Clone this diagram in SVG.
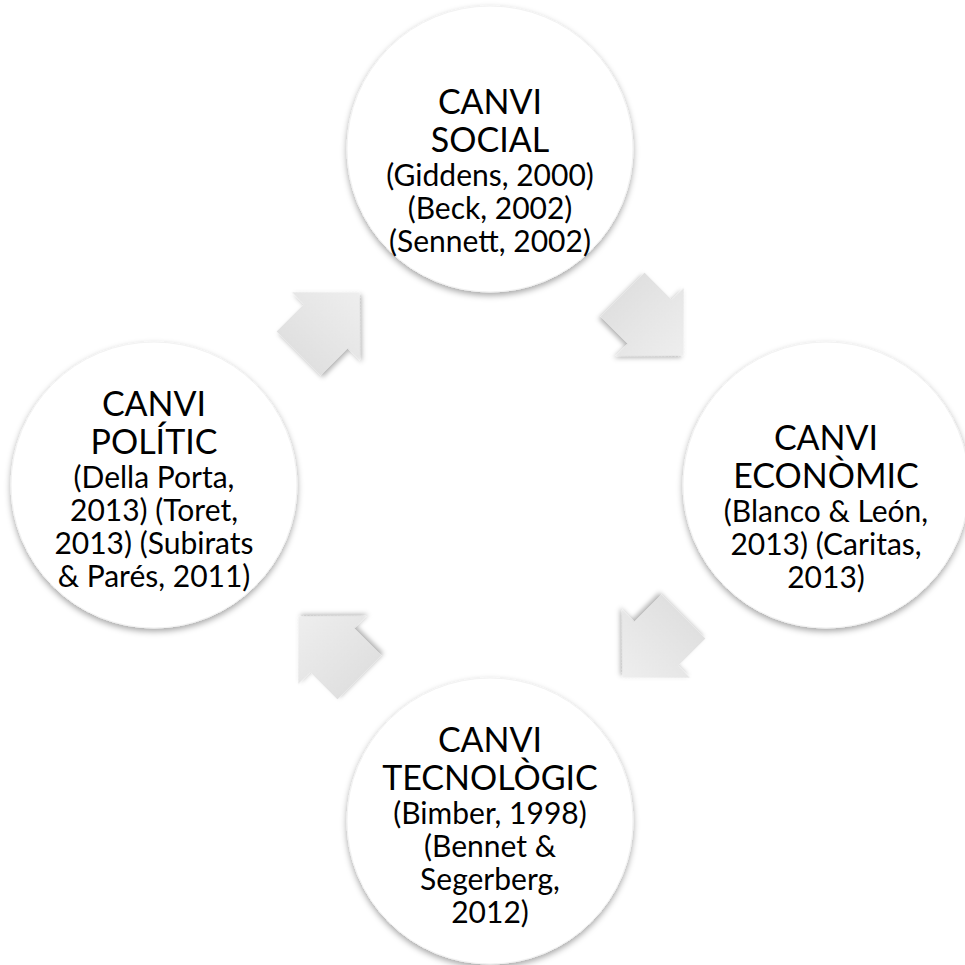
<svg xmlns="http://www.w3.org/2000/svg" width="965" height="965" viewBox="0 0 965 965">
<defs>
  <filter id="sh" x="-20%" y="-20%" width="140%" height="140%">
    <feDropShadow dx="0" dy="3" stdDeviation="3" flood-color="#000" flood-opacity="0.35"/>
  </filter>
  <filter id="ash" x="-30%" y="-30%" width="160%" height="160%">
    <feDropShadow dx="0" dy="3" stdDeviation="2.5" flood-color="#000" flood-opacity="0.3"/>
  </filter>
  <linearGradient id="ag" x1="0" y1="0" x2="1" y2="0">
    <stop offset="0" stop-color="#e0e0e0"/>
    <stop offset="1" stop-color="#eeeeee"/>
  </linearGradient>
  <polygon id="arrow" points="-43,-31 -4.5,-31 -4.5,-48 43,0 -4.5,48 -4.5,31 -43,31"/>
</defs>
<style>
  .node circle { fill: #ffffff; stroke: #f2f2f2; stroke-width: 1; filter: url(#sh); }
  .t { font-family: Lato, "Open Sans", sans-serif; font-size: 34px; fill: #000; text-anchor: middle; }
  .r { font-family: Lato, "Open Sans", sans-serif; font-size: 30px; fill: #000; text-anchor: middle; }
  .arr use { fill: url(#ag); filter: url(#ash); }
</style>
<rect width="965" height="965" fill="#ffffff"/>
<g id="connectors" class="arr">
  <use href="#arrow" transform="translate(329,323) rotate(-45)"/>
  <use href="#arrow" transform="translate(653,325) rotate(45)"/>
  <use href="#arrow" transform="translate(653,647) rotate(135)"/>
  <use href="#arrow" transform="translate(329,647) rotate(-135)"/>
</g>
<g id="node-social" class="node">
  <circle cx="490" cy="149" r="143"/>
  <text class="t" x="490" y="114">CANVI</text>
  <text class="t" x="490" y="152">SOCIAL</text>
  <text class="r" x="490" y="186">(Giddens, 2000)</text>
  <text class="r" x="490" y="219">(Beck, 2002)</text>
  <text class="r" x="490" y="252">(Sennett, 2002)</text>
</g>
<g id="node-economic" class="node">
  <circle cx="826" cy="485" r="143"/>
  <text class="t" x="826" y="450">CANVI</text>
  <text class="t" x="826" y="488">ECONÒMIC</text>
  <text class="r" x="826" y="522">(Blanco &amp; León,</text>
  <text class="r" x="826" y="555">2013) (Caritas,</text>
  <text class="r" x="826" y="588">2013)</text>
</g>
<g id="node-technological" class="node">
  <circle cx="490" cy="821" r="143"/>
  <text class="t" x="490" y="752">CANVI</text>
  <text class="t" x="490" y="790">TECNOLÒGIC</text>
  <text class="r" x="490" y="824">(Bimber, 1998)</text>
  <text class="r" x="490" y="857">(Bennet &amp;</text>
  <text class="r" x="490" y="890">Segerberg,</text>
  <text class="r" x="490" y="923">2012)</text>
</g>
<g id="node-political" class="node">
  <circle cx="154" cy="485" r="143"/>
  <text class="t" x="154" y="416">CANVI</text>
  <text class="t" x="154" y="454">POLÍTIC</text>
  <text class="r" x="154" y="488">(Della Porta,</text>
  <text class="r" x="154" y="521">2013) (Toret,</text>
  <text class="r" x="154" y="554">2013) (Subirats</text>
  <text class="r" x="154" y="587">&amp; Parés, 2011)</text>
</g>
</svg>
